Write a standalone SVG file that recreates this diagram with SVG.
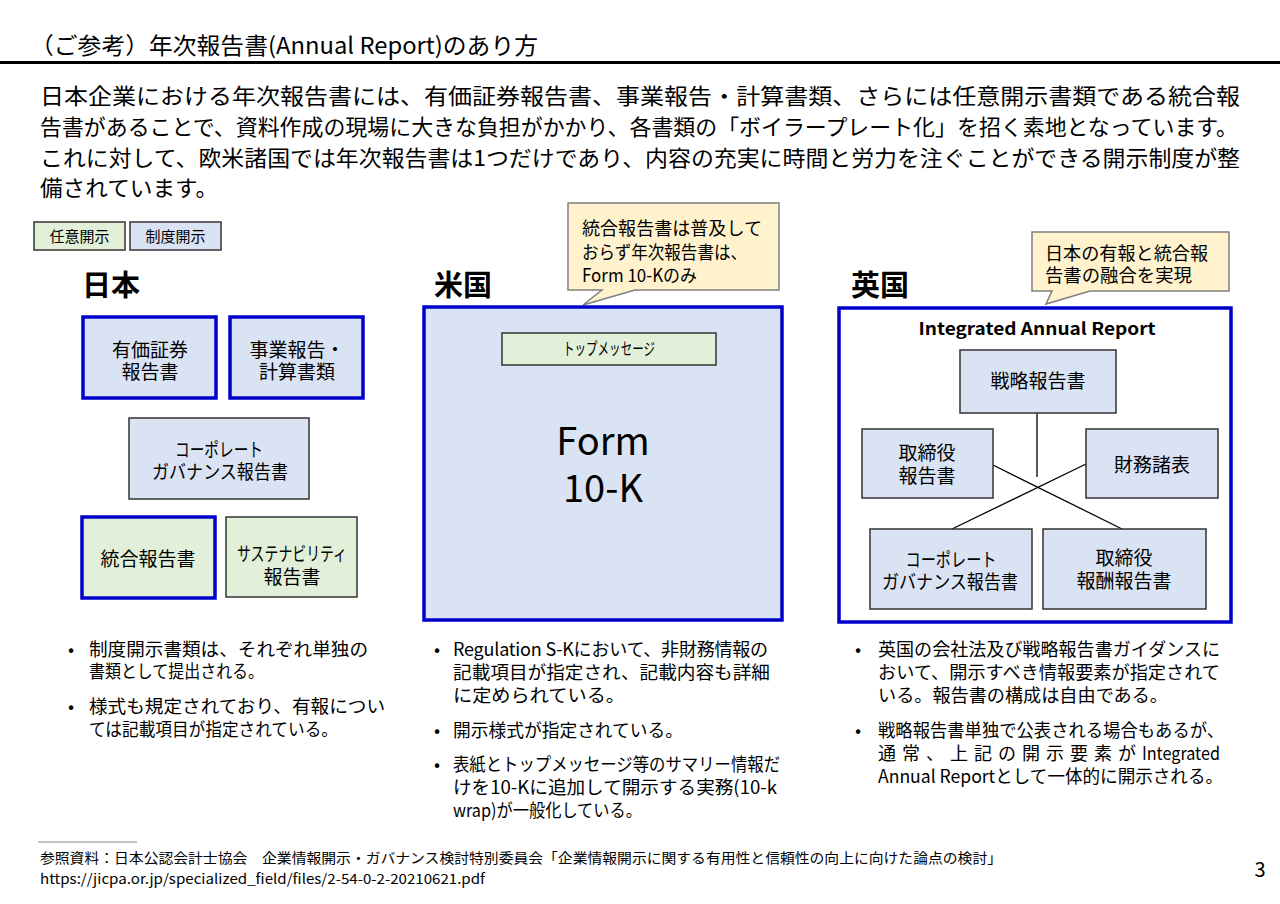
<svg xmlns="http://www.w3.org/2000/svg" width="1280" height="904" viewBox="0 0 1280 904">
<style>
text{font-family:"Noto Sans CJK JP","Noto Sans",sans-serif;fill:#000}
.h{font-size:29px;font-weight:bold}
.p{font-size:22px}
.l{font-size:19px;text-anchor:middle}
.s{font-size:18px}
.c{font-size:18px}
.f{font-size:14px}
.lg{font-size:15px;text-anchor:middle}
.dot{font-size:18px;text-anchor:middle}
.bb{fill:#dae3f3;stroke:#0000cc;stroke-width:3.5}
.bk{fill:#dae3f3;stroke:#333;stroke-width:1.5}
.gb{fill:#e2f0d9;stroke:#0000cc;stroke-width:3.5}
.gk{fill:#e2f0d9;stroke:#333;stroke-width:1.5}
.cl{fill:#fff2cc;stroke:#7f7f7f;stroke-width:1.5}
.cn{stroke:#000;stroke-width:1.3;fill:none}
</style>
<rect width="1280" height="904" fill="#fff"/>

<text x="30" y="54" style="font-size:23px" textLength="508" lengthAdjust="spacingAndGlyphs">（ご参考）年次報告書(Annual Report)のあり方</text>
<rect x="0" y="61" width="1280" height="3" fill="#000"/>

<g id="intro">
<text class="p"><tspan x="40" y="104" textLength="1200" lengthAdjust="spacingAndGlyphs">日本企業における年次報告書には、有価証券報告書、事業報告・計算書類、さらには任意開示書類である統合報</tspan><tspan x="40" y="135" textLength="1198" lengthAdjust="spacingAndGlyphs">告書があることで、資料作成の現場に大きな負担がかかり、各書類の「ボイラープレート化」を招く素地となっています。</tspan><tspan x="40" y="166" textLength="1200" lengthAdjust="spacingAndGlyphs">これに対して、欧米諸国では年次報告書は1つだけであり、内容の充実に時間と労力を注ぐことができる開示制度が整</tspan><tspan x="40" y="196" textLength="178" lengthAdjust="spacingAndGlyphs">備されています。</tspan></text>
</g>

<g id="legend">
<g id="legend-voluntary"><rect class="gk" x="34" y="222" width="91" height="28"/><text class="lg" x="79.5" y="242">任意開示</text></g>
<g id="legend-statutory"><rect class="bk" x="130" y="222" width="91" height="28"/><text class="lg" x="175.5" y="242">制度開示</text></g>
</g>

<text class="h" x="82" y="296">日本</text>
<text class="h" x="434" y="296">米国</text>
<text class="h" x="851" y="296">英国</text>

<g id="jp-yuho"><rect class="bb" x="83" y="317" width="133" height="81"/>
<text class="l"><tspan x="150" y="357">有価証券</tspan><tspan x="150" y="379">報告書</tspan></text></g>
<g id="jp-jigyo"><rect class="bb" x="230" y="317" width="133" height="81"/>
<text class="l"><tspan x="297" y="357">事業報告・</tspan><tspan x="297" y="379">計算書類</tspan></text></g>
<g id="jp-cg"><rect class="bk" x="129" y="418" width="180" height="81"/>
<text class="l"><tspan x="219" y="457" textLength="88" lengthAdjust="spacingAndGlyphs">コーポレート</tspan><tspan x="220" y="479" textLength="136" lengthAdjust="spacingAndGlyphs">ガバナンス報告書</tspan></text></g>
<g id="jp-integrated"><rect class="gb" x="82" y="517" width="133" height="81"/>
<text class="l" x="148" y="566">統合報告書</text></g>
<g id="jp-sustainability"><rect class="gk" x="226" y="517" width="131" height="80"/>
<text class="l"><tspan x="292" y="561" textLength="110" lengthAdjust="spacingAndGlyphs">サステナビリティ</tspan><tspan x="292" y="584">報告書</tspan></text></g>

<g id="us-callout">
<path class="cl" d="M568,203 H779 V290 H635 L583,305 L602,290 H568 Z"/>
<text class="c"><tspan x="582" y="235" textLength="180" lengthAdjust="spacingAndGlyphs">統合報告書は普及して</tspan><tspan x="582" y="259" textLength="165" lengthAdjust="spacingAndGlyphs">おらず年次報告書は、</tspan><tspan x="582" y="282" textLength="115" lengthAdjust="spacingAndGlyphs">Form 10-Kのみ</tspan></text>
</g>
<g id="us-form10k"><rect class="bb" x="424" y="307" width="358" height="313"/>
<text style="font-size:38px;text-anchor:middle"><tspan x="603" y="455">Form</tspan><tspan x="603" y="502">10-K</tspan></text></g>
<g id="us-topmsg"><rect class="gk" x="502" y="333" width="214" height="32"/>
<text x="609" y="355" style="font-size:17px;text-anchor:middle" textLength="92" lengthAdjust="spacingAndGlyphs">トップメッセージ</text></g>

<g id="uk-callout">
<path class="cl" d="M1032,232 H1229 V291 H1090 L1046,304 L1052,291 H1032 Z"/>
<text class="c"><tspan x="1045" y="260" textLength="163" lengthAdjust="spacingAndGlyphs">日本の有報と統合報</tspan><tspan x="1045" y="282" textLength="147" lengthAdjust="spacingAndGlyphs">告書の融合を実現</tspan></text>
</g>
<g id="uk-iar"><rect x="839" y="308" width="392" height="314" fill="#fff" stroke="#0000cc" stroke-width="3.5"/>
<text x="1037" y="335" style="font-size:17px;font-weight:bold;text-anchor:middle" textLength="237" lengthAdjust="spacingAndGlyphs">Integrated Annual Report</text></g>

<g id="connectors">
<line class="cn" x1="1037" y1="413" x2="1037" y2="477"/>
<line class="cn" x1="993" y1="465" x2="1122" y2="529"/>
<line class="cn" x1="1086" y1="464" x2="952" y2="529"/>
</g>

<g id="uk-strategic"><rect class="bk" x="960" y="350" width="156" height="63"/>
<text class="l" x="1038" y="388">戦略報告書</text></g>
<g id="uk-directors"><rect class="bk" x="862" y="429" width="131" height="69"/>
<text class="l"><tspan x="927" y="460">取締役</tspan><tspan x="927" y="483">報告書</tspan></text></g>
<g id="uk-financial"><rect class="bk" x="1086" y="429" width="132" height="69"/>
<text class="l" x="1152" y="472">財務諸表</text></g>
<g id="uk-cg"><rect class="bk" x="870" y="529" width="162" height="80"/>
<text class="l"><tspan x="951" y="567" textLength="91" lengthAdjust="spacingAndGlyphs">コーポレート</tspan><tspan x="950" y="589" textLength="136" lengthAdjust="spacingAndGlyphs">ガバナンス報告書</tspan></text></g>
<g id="uk-remuneration"><rect class="bk" x="1043" y="529" width="163" height="80"/>
<text class="l"><tspan x="1124" y="565">取締役</tspan><tspan x="1124" y="588">報酬報告書</tspan></text></g>

<g id="jp-notes">
<text class="dot" x="71" y="656">•</text>
<text class="s"><tspan x="89" y="656" textLength="279" lengthAdjust="spacingAndGlyphs">制度開示書類は、それぞれ単独の</tspan><tspan x="89" y="678" textLength="175" lengthAdjust="spacingAndGlyphs">書類として提出される。</tspan></text>
<text class="dot" x="71" y="713">•</text>
<text class="s"><tspan x="89" y="713" textLength="296" lengthAdjust="spacingAndGlyphs">様式も規定されており、有報につい</tspan><tspan x="89" y="736" textLength="249" lengthAdjust="spacingAndGlyphs">ては記載項目が指定されている。</tspan></text>
</g>

<g id="us-notes">
<text class="dot" x="437" y="656">•</text>
<text class="s"><tspan x="453" y="656" textLength="315" lengthAdjust="spacing">Regulation  S-Kにおいて、非財務情報の</tspan><tspan x="453" y="679" textLength="317" lengthAdjust="spacingAndGlyphs">記載項目が指定され、記載内容も詳細</tspan><tspan x="453" y="702" textLength="172" lengthAdjust="spacingAndGlyphs">に定められている。</tspan></text>
<text class="dot" x="437" y="737">•</text>
<text class="s" x="453" y="737" textLength="230" lengthAdjust="spacingAndGlyphs">開示様式が指定されている。</text>
<text class="dot" x="437" y="771">•</text>
<text class="s"><tspan x="453" y="771" textLength="327" lengthAdjust="spacingAndGlyphs">表紙とトップメッセージ等のサマリー情報だ</tspan><tspan x="453" y="794" textLength="324" lengthAdjust="spacingAndGlyphs">けを10-Kに追加して開示する実務(10-k</tspan><tspan x="453" y="817" textLength="189" lengthAdjust="spacingAndGlyphs">wrap)が一般化している。</tspan></text>
</g>

<g id="uk-notes">
<text class="dot" x="858" y="656">•</text>
<text class="s"><tspan x="878" y="656" textLength="342" lengthAdjust="spacingAndGlyphs">英国の会社法及び戦略報告書ガイダンスに</tspan><tspan x="878" y="679" textLength="342" lengthAdjust="spacingAndGlyphs">おいて、開示すべき情報要素が指定されて</tspan><tspan x="878" y="702" textLength="290" lengthAdjust="spacingAndGlyphs">いる。報告書の構成は自由である。</tspan></text>
<text class="dot" x="858" y="737">•</text>
<text class="s"><tspan x="878" y="737" textLength="346" lengthAdjust="spacingAndGlyphs">戦略報告書単独で公表される場合もあるが、</tspan><tspan x="878" y="760" textLength="258" lengthAdjust="spacing">通常、上記の開示要素が</tspan><tspan x="1142" y="760" textLength="78" lengthAdjust="spacingAndGlyphs">Integrated</tspan><tspan x="878" y="783" textLength="345" lengthAdjust="spacingAndGlyphs">Annual Reportとして一体的に開示される。</tspan></text>
</g>

<g id="footer">
<line x1="38" y1="842" x2="137" y2="842" stroke="#888" stroke-width="1"/>
<text class="f"><tspan x="40" y="863" textLength="962" lengthAdjust="spacingAndGlyphs">参照資料：日本公認会計士協会　企業情報開示・ガバナンス検討特別委員会「企業情報開示に関する有用性と信頼性の向上に向けた論点の検討」</tspan><tspan x="40" y="884" textLength="445" lengthAdjust="spacingAndGlyphs">https://jicpa.or.jp/specialized_field/files/2-54-0-2-20210621.pdf</tspan></text>
<text x="1260" y="877" style="font-size:20px;text-anchor:middle">3</text>
</g>
</svg>
